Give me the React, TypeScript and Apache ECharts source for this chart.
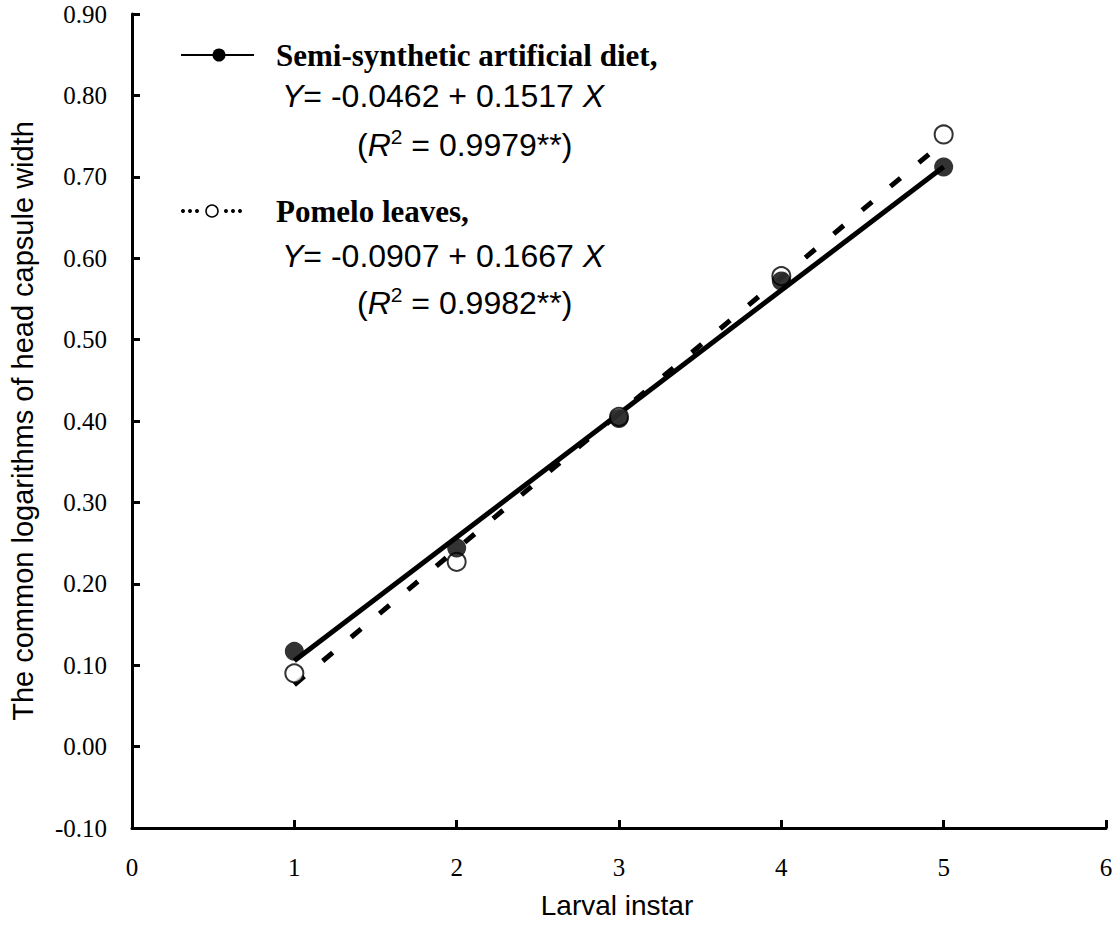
import React, { useEffect, useRef } from "react";
import * as echarts from "echarts";

const instars = [1, 2, 3, 4, 5];
const dietValues = [0.117, 0.244, 0.403, 0.572, 0.712];
const pomeloValues = [0.09, 0.227, 0.405, 0.578, 0.752];
// fitted regression lines (endpoints at instar 1 and 5)
const dietFitX = [1, 5];
const dietFitY = [0.1055, 0.7123];
const pomeloFitX = [1, 5];
const pomeloFitY = [0.076, 0.7428];
const xTicks = [0, 1, 2, 3, 4, 5, 6];
const yMin = -0.1;
const yMax = 0.9;

const SERIF = "Liberation Serif";
const SANS = "Liberation Sans";

export default function App() {
  const ref = useRef<HTMLDivElement>(null);
  useEffect(() => {
    document.body.style.margin = "0";
    document.documentElement.style.overflow = "hidden";
    if (!ref.current) return;
    const chart = echarts.init(ref.current, null, { renderer: "svg" });
    const eqRich = {
      i: { fontFamily: SANS, fontStyle: "italic", fontSize: 32, color: "#000", lineHeight: 38 },
      n: { fontFamily: SANS, fontSize: 32, color: "#000", lineHeight: 38 },
      s: { fontFamily: SANS, fontSize: 21, color: "#000", verticalAlign: "top", lineHeight: 38 },
    };
    const legendBlock = (yT: number, yE: number, yR: number, title: string, eq: string, r2: string, filled: boolean) => {
      const els: any[] = [];
      if (filled) {
        els.push({ type: "line", shape: { x1: 181, y1: yT, x2: 254, y2: yT }, style: { stroke: "#000", lineWidth: 2 } });
        els.push({ type: "circle", shape: { cx: 219, cy: yT, r: 6.5 }, style: { fill: "#000" } });
      } else {
        [183, 190, 197, 226, 233, 240].forEach((cx) =>
          els.push({ type: "circle", shape: { cx, cy: yT, r: 2 }, style: { fill: "#000" } })
        );
        els.push({ type: "circle", shape: { cx: 212, cy: yT, r: 6 }, style: { fill: "#fff", stroke: "#000", lineWidth: 1.5 } });
      }
      els.push({
        type: "text", x: 276, y: yT,
        style: { text: title, fontFamily: SERIF, fontWeight: "bold", fontSize: 31, fill: "#000", verticalAlign: "middle" },
      });
      els.push({
        type: "text", x: 282, y: yE,
        style: { text: eq, rich: eqRich, verticalAlign: "middle", fill: "#000" },
      });
      els.push({
        type: "text", x: 357, y: yR,
        style: { text: r2, rich: eqRich, verticalAlign: "middle", fill: "#000" },
      });
      return els;
    };
    const option: any = {
      animation: false,
      backgroundColor: "#fff",
      grid: { left: 132, right: 10, top: 14, bottom: 107, containLabel: false },
      xAxis: {
        type: "value", min: xTicks[0], max: xTicks[xTicks.length - 1], interval: 1,
        axisLine: { onZero: false, lineStyle: { color: "#000", width: 3 } },
        axisTick: { inside: true, length: 8, lineStyle: { color: "#000", width: 3 } },
        splitLine: { show: false },
        axisLabel: { fontFamily: SERIF, fontSize: 25, color: "#000", margin: 27 },
      },
      yAxis: {
        type: "value", min: yMin, max: yMax, interval: 0.1,
        axisLine: { onZero: false, lineStyle: { color: "#000", width: 3 } },
        axisTick: { inside: true, length: 8, lineStyle: { color: "#000", width: 3 } },
        splitLine: { show: false },
        axisLabel: {
          fontFamily: SERIF, fontSize: 25, color: "#000", margin: 25,
          formatter: (v: number) => (Math.abs(v) < 1e-9 ? 0 : v).toFixed(2),
        },
      },
      series: [
        {
          type: "line", data: dietFitX.map((x, i) => [x, dietFitY[i]]), showSymbol: false, symbol: "none",
          lineStyle: { color: "#000", width: 5 }, z: 2,
        },
        {
          type: "line", data: pomeloFitX.map((x, i) => [x, pomeloFitY[i]]), showSymbol: false, symbol: "none",
          lineStyle: { color: "#000", width: 5, type: [13, 24], cap: "butt" }, z: 2,
        },
        {
          type: "scatter", data: instars.map((x, i) => [x, pomeloValues[i]]), symbol: "circle", symbolSize: 18,
          itemStyle: { color: "#fff", borderColor: "#000", borderWidth: 2 }, z: 3,
        },
        {
          type: "scatter", data: instars.map((x, i) => [x, dietValues[i]]), symbol: "circle", symbolSize: 19,
          itemStyle: { color: "#000" }, z: 4,
        },
      ],
      graphic: [
        ...legendBlock(55, 96, 145, "Semi-synthetic artificial diet,", "{i|Y}{n|= -0.0462 + 0.1517 }{i|X}", "{n|(}{i|R}{s|2}{n| = 0.9979**)}", true),
        ...legendBlock(211, 256, 303, "Pomelo leaves,", "{i|Y}{n|= -0.0907 + 0.1667 }{i|X}", "{n|(}{i|R}{s|2}{n| = 0.9982**)}", false),
        {
          type: "text", x: 23, y: 421, rotation: Math.PI / 2,
          style: { text: "The common logarithms of head capsule width", fontFamily: SANS, fontSize: 29, fill: "#000", align: "center", verticalAlign: "middle" },
        },
        {
          type: "text", x: 617, y: 905,
          style: { text: "Larval instar", fontFamily: SANS, fontSize: 28, fill: "#000", align: "center", verticalAlign: "middle" },
        },
      ],
    };
    chart.setOption(option);
    return () => chart.dispose();
  }, []);
  return <div ref={ref} style={{ width: 1116, height: 935 }} />;
}
